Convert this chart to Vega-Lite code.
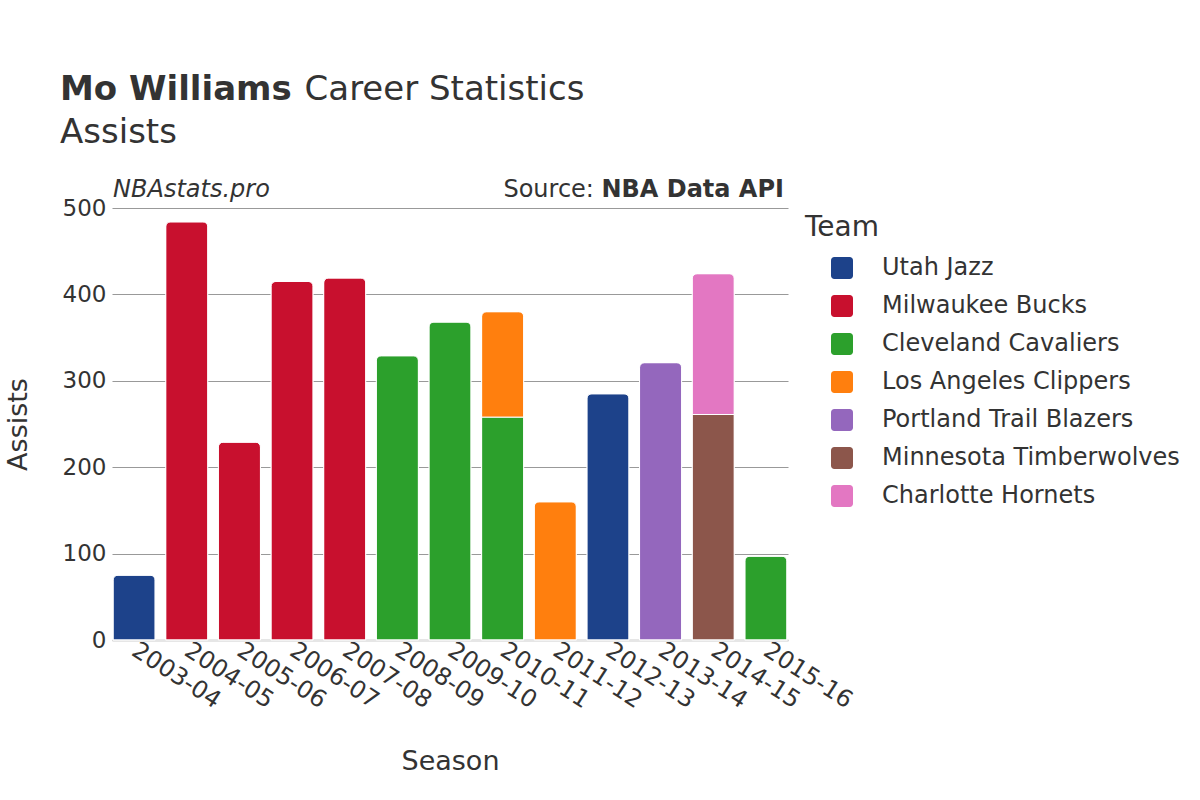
{
  "$schema": "https://vega.github.io/schema/vega-lite/v6.json",
  "width": 676,
  "height": 432,
  "autosize": {"type": "none"},
  "padding": {"left": 112, "top": 208, "right": 412, "bottom": 160},
  "background": "white",
  "config": {
    "font": "DejaVu Sans",
    "view": {"stroke": null},
    "axis": {"labelColor": "#333", "titleColor": "#333", "titleFontWeight": "normal"},
    "legend": {"labelColor": "#333", "titleColor": "#333"}
  },
  "title": {
    "text": "Mo Williams",
    "subtitle": ["\u200b\u00a0\u00a0\u00a0\u00a0\u00a0\u00a0\u00a0\u00a0\u00a0\u00a0\u00a0\u00a0\u00a0\u00a0\u00a0\u00a0\u00a0\u00a0\u00a0\u00a0\u00a0\u00a0\u2009Career Statistics", "Assists"],
    "anchor": "start",
    "frame": "group",
    "dx": -52,
    "offset": 28,
    "font": "DejaVu Sans",
    "subtitleFont": "DejaVu Sans",
    "fontSize": 34,
    "subtitleFontSize": 34,
    "fontWeight": "bold",
    "color": "#333",
    "subtitleColor": "#333",
    "subtitlePadding": -34,
    "subtitleLineHeight": 43
  },
  "data": {
    "values": [
      {"season": "2003-04", "team": "Utah Jazz", "stint": 1, "assists": 75},
      {"season": "2004-05", "team": "Milwaukee Bucks", "stint": 1, "assists": 484},
      {"season": "2005-06", "team": "Milwaukee Bucks", "stint": 1, "assists": 229},
      {"season": "2006-07", "team": "Milwaukee Bucks", "stint": 1, "assists": 415},
      {"season": "2007-08", "team": "Milwaukee Bucks", "stint": 1, "assists": 419},
      {"season": "2008-09", "team": "Cleveland Cavaliers", "stint": 1, "assists": 329},
      {"season": "2009-10", "team": "Cleveland Cavaliers", "stint": 1, "assists": 368},
      {"season": "2010-11", "team": "Cleveland Cavaliers", "stint": 1, "assists": 258},
      {"season": "2010-11", "team": "Los Angeles Clippers", "stint": 2, "assists": 122},
      {"season": "2011-12", "team": "Los Angeles Clippers", "stint": 1, "assists": 160},
      {"season": "2012-13", "team": "Utah Jazz", "stint": 1, "assists": 285},
      {"season": "2013-14", "team": "Portland Trail Blazers", "stint": 1, "assists": 321},
      {"season": "2014-15", "team": "Minnesota Timberwolves", "stint": 1, "assists": 261},
      {"season": "2014-15", "team": "Charlotte Hornets", "stint": 2, "assists": 163},
      {"season": "2015-16", "team": "Cleveland Cavaliers", "stint": 1, "assists": 97}
    ]
  },
  "layer": [
    {
      "mark": {"type": "bar", "cornerRadiusTopLeft": 5, "cornerRadiusTopRight": 5, "stroke": "white", "strokeWidth": 1},
      "encoding": {
        "x": {
          "field": "season", "type": "nominal", "title": "Season",
          "scale": {"paddingInner": 0.2, "paddingOuter": 0.02},
          "axis": {
            "labelAngle": 33, "labelFontSize": 24, "labelAlign": "left", "labelBaseline": "middle",
            "labelPadding": 8, "ticks": false, "domainColor": "#e6e6e6", "domainWidth": 3,
            "titleFontSize": 27, "titlePadding": 36
          }
        },
        "y": {
          "field": "assists", "type": "quantitative", "title": "Assists", "stack": "zero",
          "scale": {"domain": [0, 500]},
          "axis": {
            "values": [0, 100, 200, 300, 400, 500], "labelFontSize": 23, "labelPadding": 6,
            "ticks": false, "domain": false, "gridColor": "#999", "gridWidth": 1,
            "titleFontSize": 27, "titlePadding": 30
          }
        },
        "color": {
          "field": "team", "type": "nominal", "title": "Team",
          "scale": {
            "domain": ["Utah Jazz", "Milwaukee Bucks", "Cleveland Cavaliers", "Los Angeles Clippers", "Portland Trail Blazers", "Minnesota Timberwolves", "Charlotte Hornets"],
            "range": ["#1d428a", "#c8102e", "#2ca02c", "#ff7f0e", "#9467bd", "#8c564b", "#e377c2"]
          },
          "legend": {
            "offset": 11, "padding": 6, "titleFontSize": 28, "labelFontSize": 24, "titleFontWeight": "normal",
            "labelLimit": 400,
            "symbolType": "M -0.7,-1 H 0.7 A 0.3,0.3 0 0 1 1,-0.7 V 0.7 A 0.3,0.3 0 0 1 0.7,1 H -0.7 A 0.3,0.3 0 0 1 -1,0.7 V -0.7 A 0.3,0.3 0 0 1 -0.7,-1 Z",
            "symbolSize": 484, "symbolOffset": 25, "symbolStrokeWidth": 0, "symbolOpacity": 1,
            "labelOffset": 28, "rowPadding": 14, "titlePadding": 14
          }
        },
        "order": {"field": "stint", "type": "quantitative"}
      }
    },
    {
      "data": {"values": [{"label": "NBAstats.pro"}]},
      "mark": {"type": "text", "align": "left", "baseline": "bottom", "dy": -6, "fontSize": 24, "fontStyle": "italic", "color": "#333"},
      "encoding": {
        "x": {"datum": "2003-04", "bandPosition": 0},
        "y": {"datum": 500},
        "text": {"field": "label"}
      }
    },
    {
      "data": {"values": [{"label": "NBA Data API"}]},
      "mark": {"type": "text", "align": "right", "baseline": "bottom", "dy": -6, "dx": -3, "fontSize": 24, "fontWeight": "bold", "color": "#333"},
      "encoding": {
        "x": {"datum": "2015-16", "bandPosition": 1},
        "y": {"datum": 500},
        "text": {"field": "label"}
      }
    },
    {
      "data": {"values": [{"label": "Source:"}]},
      "mark": {"type": "text", "align": "right", "baseline": "bottom", "dy": -6, "dx": -193, "fontSize": 24, "color": "#333"},
      "encoding": {
        "x": {"datum": "2015-16", "bandPosition": 1},
        "y": {"datum": 500},
        "text": {"field": "label"}
      }
    }
  ]
}
